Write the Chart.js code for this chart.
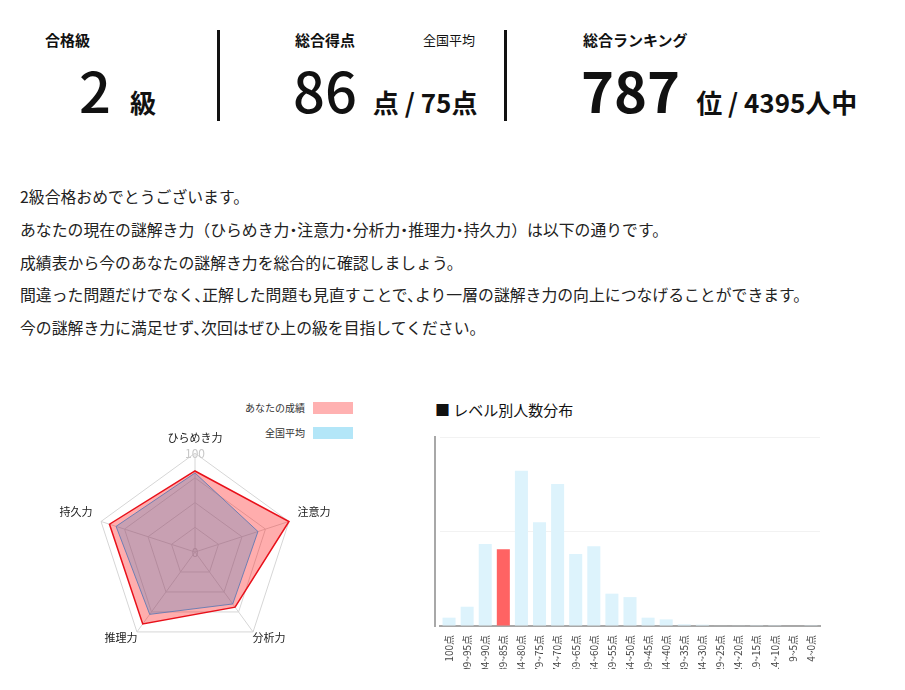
<!DOCTYPE html>
<html lang="ja">
<head>
<meta charset="utf-8">
<script src="https://cdn.jsdelivr.net/npm/chart.js@4.4.1/dist/chart.umd.min.js"></script>
<style>
body{margin:0;background:#fff;font-family:"Noto Sans CJK JP","Noto Sans",sans-serif;color:#111;}
.abs{position:absolute;}
.lbl{font-size:15px;font-weight:700;line-height:1;}
.big{position:absolute;display:flex;align-items:baseline;line-height:1;white-space:nowrap;}
.num{font-size:56px;font-weight:500;}
.unit{font-size:26px;font-weight:700;}
.sep{position:absolute;width:3px;background:#111;top:30px;height:91px;}
.msg{position:absolute;left:20px;top:181px;font-size:15.85px;line-height:32.8px;color:#222;font-feature-settings:"halt";white-space:nowrap;}
.msg p{margin:0;}
.msg .fw{font-feature-settings:normal;}
.leg{position:absolute;font-size:10px;color:#333;display:flex;align-items:center;}
.leg span.box{display:inline-block;width:40px;height:12px;margin-left:8px;}
.ttl{position:absolute;left:435px;top:400px;font-size:15px;line-height:20px;color:#111;}
#radarBox{position:absolute;left:35px;top:423px;width:320px;height:242px;}
#barClip{position:absolute;left:433px;top:430px;width:390px;height:239px;overflow:hidden;}
#barBox{position:relative;width:390px;height:246px;}
</style>
</head>
<body>
<div class="abs lbl" style="left:45px;top:32px">合格級</div>
<div class="big" style="left:79px;top:61px"><span class="num">2</span><span class="unit" style="margin-left:19px">級</span></div>
<div class="sep" style="left:217px"></div>

<div class="abs lbl" style="left:295px;top:32px">総合得点</div>
<div class="abs" style="left:423px;top:32px;font-size:13px;line-height:16px">全国平均</div>
<div class="big" style="left:293px;top:61px"><span class="num">86</span><span class="unit" style="margin-left:16px">点 / 75点</span></div>
<div class="sep" style="left:504px"></div>

<div class="abs lbl" style="left:583px;top:32px">総合ランキング</div>
<div class="big" style="left:581px;top:61px"><span class="num" style="font-weight:700">787</span><span class="unit" style="margin-left:16px">位 / 4395人中</span></div>

<div class="msg">
<p>2級合格おめでとうございます。</p>
<p>あなたの現在の謎解き力<span class="fw">（</span>ひらめき力・注意力・分析力・推理力・持久力<span class="fw">）</span>は以下の通りです。</p>
<p>成績表から今のあなたの謎解き力を総合的に確認しましょう。</p>
<p>間違った問題だけでなく、正解した問題も見直すことで、より一層の謎解き力の向上につなげることができます。</p>
<p>今の謎解き力に満足せず、次回はぜひ上の級を目指してください。</p>
</div>

<div class="leg" style="right:552px;top:400px">あなたの成績<span class="box" style="background:#ffb1b1"></span></div>
<div class="leg" style="right:552px;top:425px">全国平均<span class="box" style="background:#b3e6f8"></span></div>
<div id="radarBox"><canvas id="radar"></canvas></div>

<div class="ttl">■ レベル別人数分布</div>
<div id="barClip"><div id="barBox"><canvas id="bar"></canvas></div></div>

<script>
// レーダー
const abilities = ['ひらめき力', '注意力', '分析力', '推理力', '持久力'];
const myScores = [82, 100, 69, 90, 91];
const avgScores = [80, 67, 65, 78, 84];

// 人数分布
const scoreBands = ['100点', '99~95点', '94~90点', '89~85点', '84~80点', '79~75点', '74~70点',
  '69~65点', '64~60点', '59~55点', '54~50点', '49~45点', '44~40点', '39~35点', '34~30点',
  '29~25点', '24~20点', '19~15点', '14~10点', '9~5点', '4~0点'];
const bandCounts = [44, 102, 434, 406, 822, 549, 751, 381, 422, 171, 153, 44, 35, 9, 7, 3, 2, 1, 1, 0, 1];
const myBand = 3;

const fontJP = '"Noto Sans CJK JP", "Noto Sans", sans-serif';

const zeroLabel = {
  id: 'zeroLabel',
  beforeDatasetsDraw(chart) {
    const s = chart.scales.r;
    const ctx = chart.ctx;
    ctx.save();
    ctx.font = '12px ' + fontJP;
    ctx.fillStyle = '#c8c8c8';
    ctx.textAlign = 'center';
    ctx.textBaseline = 'middle';
    ctx.fillText('0', s.xCenter, s.yCenter);
    ctx.restore();
  }
};

new Chart(document.getElementById('radar'), {
  type: 'radar',
  data: {
    labels: abilities,
    datasets: [{
      label: 'あなたの成績',
      data: myScores,
      backgroundColor: 'rgba(255,0,0,0.32)',
      borderColor: '#e8101a',
      borderWidth: 1.5,
      pointRadius: 0,
      order: 2
    }, {
      label: '全国平均',
      data: avgScores,
      backgroundColor: 'rgba(72,130,190,0.3)',
      borderColor: 'rgba(90,120,180,0.85)',
      borderWidth: 1,
      pointRadius: 0,
      order: 1
    }]
  },
  options: {
    responsive: true,
    maintainAspectRatio: false,
    animation: false,
    plugins: { legend: { display: false }, tooltip: { enabled: false } },
    scales: {
      r: {
        min: 0,
        max: 100,
        ticks: {
          stepSize: 25,
          showLabelBackdrop: false,
          backdropPadding: 0,
          color: '#c8c8c8',
          font: { size: 12, family: fontJP },
          callback: v => (v === 0 || v === 100) ? v : ''
        },
        grid: { color: '#d6d6d6' },
        angleLines: { color: '#d6d6d6' },
        pointLabels: {
          color: '#222',
          font: { size: 11, family: fontJP },
          padding: ctx => (ctx.index === 2 || ctx.index === 3) ? -7 : 3
        }
      }
    }
  },
  plugins: [zeroLabel]
});

new Chart(document.getElementById('bar'), {
  type: 'bar',
  data: {
    labels: scoreBands,
    datasets: [{
      data: bandCounts,
      backgroundColor: bandCounts.map((v, i) => i === myBand ? '#ff6363' : '#ddf3fc')
    }]
  },
  options: {
    responsive: true,
    maintainAspectRatio: false,
    animation: false,
    layout: { padding: { top: 7, left: 2, right: 3 } },
    plugins: { legend: { display: false }, tooltip: { enabled: false } },
    scales: {
      x: {
        grid: { display: false, drawTicks: false },
        border: { color: '#a8a8a8', width: 2 },
        ticks: {
          minRotation: 90,
          maxRotation: 90,
          autoSkip: false,
          padding: 9,
          color: '#444',
          font: { size: 10, family: fontJP }
        },
        afterFit(scale) {
          scale.height = 50;
          scale.paddingLeft = 0;
          scale.paddingRight = 0;
        }
      },
      y: {
        min: 0,
        max: 1000,
        ticks: { display: false, stepSize: 500 },
        grid: { color: '#f2f2f2', drawTicks: false },
        border: { display: false },
        afterFit(scale) { scale.width = 5; }
      },
      // 左端の縦線
      yl: {
        type: 'linear',
        position: 'left',
        weight: 1,
        ticks: { display: false },
        grid: { display: false, drawTicks: false },
        border: { color: '#a8a8a8', width: 2 },
        afterFit(scale) { scale.width = 0; }
      }
    }
  }
});
</script>
</body>
</html>
